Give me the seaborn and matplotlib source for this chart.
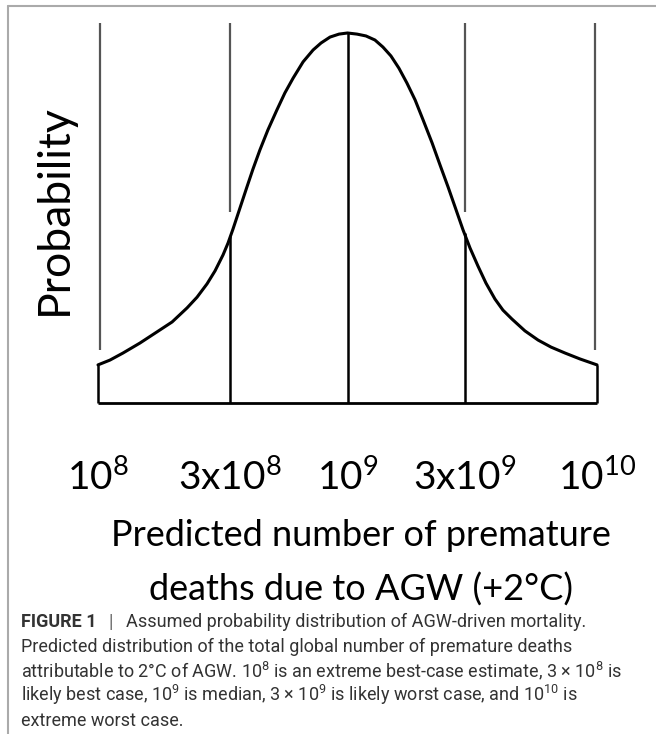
import matplotlib
matplotlib.use("Agg")
import matplotlib.pyplot as plt
from matplotlib.lines import Line2D
import seaborn as sns

# curve: x in log10(deaths), p relative to the peak
curve_x = [8.0, 8.048, 8.100, 8.168, 8.236, 8.297, 8.357, 8.397, 8.437, 8.469,
           8.501, 8.521, 8.541, 8.569, 8.597, 8.621, 8.649, 8.681, 8.717, 8.749,
           8.782, 8.822, 8.862, 8.894, 8.930, 8.966, 9.0,
           9.038, 9.074, 9.110, 9.142, 9.174, 9.206, 9.238, 9.271, 9.303, 9.339,
           9.371, 9.403, 9.431, 9.463, 9.491, 9.523, 9.555, 9.591, 9.623, 9.659,
           9.711, 9.764, 9.816, 9.872, 9.932, 10.0]
curve_p = [0.103, 0.116, 0.135, 0.162, 0.192, 0.219, 0.257, 0.286, 0.322, 0.357,
           0.400, 0.432, 0.470, 0.527, 0.584, 0.632, 0.684, 0.738, 0.792, 0.838,
           0.878, 0.922, 0.954, 0.973, 0.989, 0.997, 1.0,
           0.997, 0.992, 0.981, 0.962, 0.938, 0.905, 0.865, 0.819, 0.765, 0.703,
           0.643, 0.584, 0.530, 0.468, 0.419, 0.370, 0.324, 0.281, 0.251, 0.227,
           0.195, 0.170, 0.151, 0.135, 0.119, 0.103]

# drop lines under the curve
marker_pos = [8.0, 8.53, 9.0, 9.47, 10.0]
marker_height = [0.103, 0.45, 1.0, 0.46, 0.103]

# grey guide lines above the curve
guide_pos = [8.01, 8.53, 9.47, 9.99]
guide_bottom = [0.143, 0.516, 0.516, 0.143]
guide_top = 1.027

tick_labels = [r"$\mathdefault{10^{8}}$", r"$\mathdefault{3x10^{8}}$",
               r"$\mathdefault{10^{9}}$", r"$\mathdefault{3x10^{9}}$",
               r"$\mathdefault{10^{10}}$"]

caption_head = "FIGURE 1"
caption_lines = [
    "Assumed probability distribution of AGW-driven mortality.",
    "Predicted distribution of the total global number of premature deaths",
    r"attributable to 2°C of AGW. $\mathdefault{10^{8}}$ is an extreme best-case estimate, 3 × $\mathdefault{10^{8}}$ is",
    r"likely best case, $\mathdefault{10^{9}}$ is median, 3 × $\mathdefault{10^{9}}$ is likely worst case, and $\mathdefault{10^{10}}$ is",
    "extreme worst case.",
]

sns.set_style("white")
plt.rcParams["font.family"] = ["Lato", "DejaVu Sans"]
plt.rcParams["mathtext.fontset"] = "custom"

W, H = 656, 734
fig = plt.figure(figsize=(W / 100, H / 100), dpi=100)
ax = fig.add_axes([98 / W, (H - 403) / H, 499 / W, 380 / H])

sns.lineplot(x=curve_x, y=curve_p, ax=ax, color="black", lw=2.2,
             sort=False, estimator=None)
ax.lines[-1].set_clip_on(False)
ax.lines[-1].set_solid_joinstyle("round")
ax.vlines(marker_pos, 0, marker_height, color="black", lw=1.8, clip_on=False)
ax.vlines(guide_pos, guide_bottom, guide_top, color="#555555", lw=1.6, clip_on=False)
ax.hlines(0, marker_pos[0], marker_pos[-1], color="black", lw=2.0, clip_on=False)

ax.set_xlim(8, 10)
ax.set_ylim(0, guide_top)
sns.despine(ax=ax, left=True, bottom=True)
ax.set_yticks([])
ax.set_xticks(marker_pos, tick_labels)
ax.tick_params(axis="x", length=0, pad=40, labelsize=28, labelcolor="black")

ax.set_xlabel("Predicted number of premature\ndeaths due to AGW (+2°C)",
              fontsize=26, linespacing=1.75, color="black")
ax.xaxis.set_label_coords(0.527, -0.305)
ax.set_ylabel("Probability", fontsize=32, color="black")
ax.yaxis.set_label_coords(-0.046, 0.508)

# frame lines of the figure panel
fig.add_artist(Line2D([8 / W, 1], [1 - 6 / H] * 2, color="#aaaaaa", lw=1.5))
fig.add_artist(Line2D([8 / W] * 2, [0, 1 - 6 / H], color="#aaaaaa", lw=1.5))

# caption
cap_font = "Roboto"
cap_size = 13
cap_x = 21 / W
baselines = [627, 652, 677, 701, 726]
renderer = fig.canvas.get_renderer()
head = fig.text(cap_x, 1 - baselines[0] / H, caption_head, fontsize=cap_size,
                family=cap_font, weight="bold", color="#333333", va="baseline")
x1 = head.get_window_extent(renderer).x1
bar = fig.text((x1 + 12) / W, 1 - baselines[0] / H, "|", fontsize=cap_size,
               family=cap_font, weight="bold", color="#777777", va="baseline")
x2 = bar.get_window_extent(renderer).x1
for i, line in enumerate(caption_lines):
    x = (x2 + 13) / W if i == 0 else cap_x
    fig.text(x, 1 - baselines[i] / H, line, fontsize=cap_size, family=cap_font,
             color="#333333", va="baseline")

fig.savefig("out.png", dpi=100)
